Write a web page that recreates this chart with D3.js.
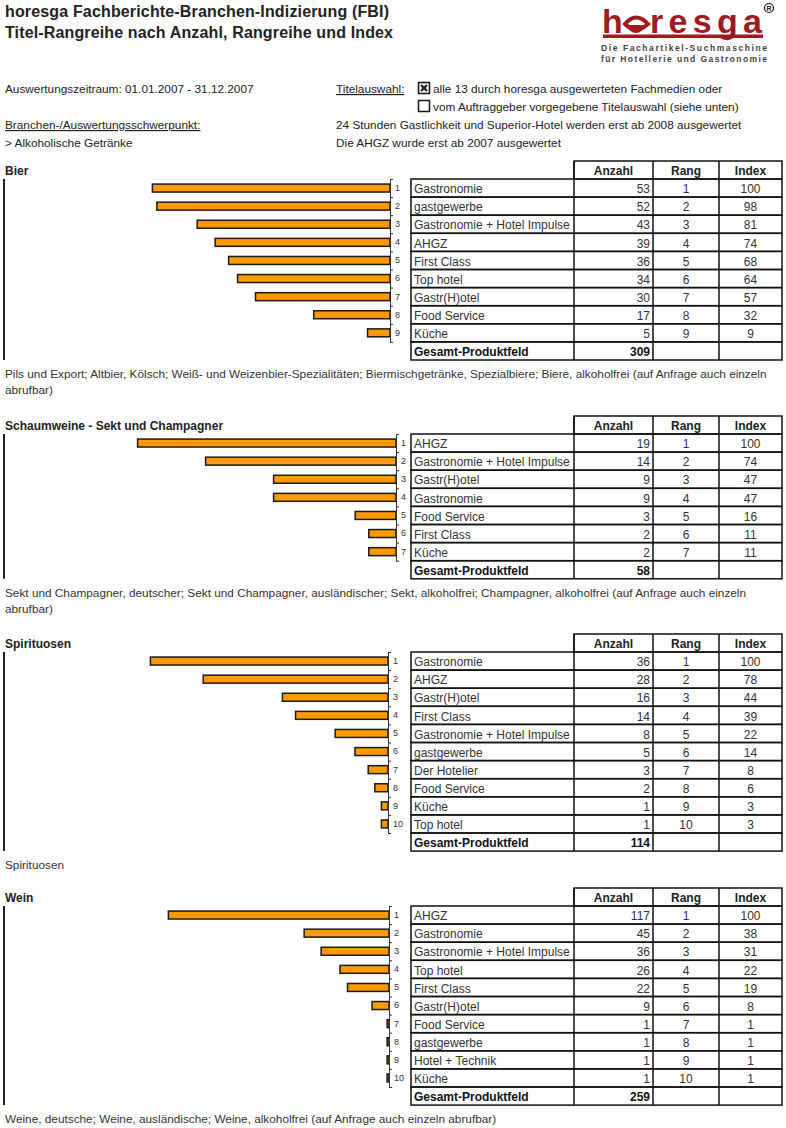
<!DOCTYPE html>
<html>
<head>
<meta charset="utf-8">
<script src="https://cdn.jsdelivr.net/npm/d3@7"></script>
<style>
    body { margin: 0; background: #fff; }
    text { font-family: "Liberation Sans", Arial, sans-serif; fill: #222; }
</style>
</head>
<body>
<div id="page"></div>
<script>

// ---- data ----
var sectionTitles = ["Bier", "Schaumweine - Sekt und Champagner", "Spirituosen", "Wein"];

var bierTitles = ["Gastronomie", "gastgewerbe", "Gastronomie + Hotel Impulse", "AHGZ", "First Class",
    "Top hotel", "Gastr(H)otel", "Food Service", "Küche"];
var bierCounts = [53, 52, 43, 39, 36, 34, 30, 17, 5];
var bierIndex = [100, 98, 81, 74, 68, 64, 57, 32, 9];

var sektTitles = ["AHGZ", "Gastronomie + Hotel Impulse", "Gastr(H)otel", "Gastronomie", "Food Service",
    "First Class", "Küche"];
var sektCounts = [19, 14, 9, 9, 3, 2, 2];
var sektIndex = [100, 74, 47, 47, 16, 11, 11];

var spiritTitles = ["Gastronomie", "AHGZ", "Gastr(H)otel", "First Class", "Gastronomie + Hotel Impulse",
    "gastgewerbe", "Der Hotelier", "Food Service", "Küche", "Top hotel"];
var spiritCounts = [36, 28, 16, 14, 8, 5, 3, 2, 1, 1];
var spiritIndex = [100, 78, 44, 39, 22, 14, 8, 6, 3, 3];

var weinTitles = ["AHGZ", "Gastronomie", "Gastronomie + Hotel Impulse", "Top hotel", "First Class",
    "Gastr(H)otel", "Food Service", "gastgewerbe", "Hotel + Technik", "Küche"];
var weinCounts = [117, 45, 36, 26, 22, 9, 1, 1, 1, 1];
var weinIndex = [100, 38, 31, 22, 19, 8, 1, 1, 1, 1];

var totals = [309, 58, 114, 259];
var axisMax = [60, 20, 40, 140];

var footnotes = [
    ["Pils und Export; Altbier, Kölsch; Weiß- und Weizenbier-Spezialitäten; Biermischgetränke, Spezialbiere; Biere, alkoholfrei (auf Anfrage auch einzeln",
        "abrufbar)"],
    ["Sekt und Champagner, deutscher; Sekt und Champagner, ausländischer; Sekt, alkoholfrei; Champagner, alkoholfrei (auf Anfrage auch einzeln",
        "abrufbar)"],
    ["Spirituosen"],
    ["Weine, deutsche; Weine, ausländische; Weine, alkoholfrei (auf Anfrage auch einzeln abrufbar)"]
];

var tableHeads = ["Anzahl", "Rang", "Index"];

// ---- layout ----
var W = 786, H = 1128;
var sectionTop = [161, 416, 634, 888];
var axisX = [390, 396, 388, 389];
var plotW = [269, 272, 264, 264];
var colX = [411, 574, 653, 719, 782];
var headH = 18, rowH = 18.1;
var red = "#9e1b1f";

var svg = d3.select("#page").append("svg")
    .attr("width", W)
    .attr("height", H);

svg.append("rect").attr("width", W).attr("height", H).attr("fill", "#fff");

// ---- title ----
svg.append("text")
    .attr("x", 5).attr("y", 17)
    .attr("font-size", "16px").attr("font-weight", "bold").attr("fill", "#111")
    .attr("textLength", 384)
    .text("horesga Fachberichte-Branchen-Indizierung (FBI)");
svg.append("text")
    .attr("x", 5).attr("y", 38)
    .attr("font-size", "16px").attr("font-weight", "bold").attr("fill", "#111")
    .attr("textLength", 388)
    .text("Titel-Rangreihe nach Anzahl, Rangreihe und Index");

// ---- logo ----
var logo = svg.append("g").attr("class", "logo");
logo.append("text")
    .attr("x", 602).attr("y", 32.5)
    .attr("font-size", "34px").attr("font-weight", "bold")
    .attr("textLength", 21)
    .style("fill", red)
    .attr("font-family", "'DejaVu Sans', sans-serif")
    .text("h");
logo.append("text")
    .attr("x", 650).attr("y", 32.5)
    .attr("font-size", "34px").attr("font-weight", "bold")
    .attr("textLength", 112)
    .style("fill", red)
    .attr("font-family", "'DejaVu Sans', sans-serif")
    .text("resga");
// eye in place of the "o"
logo.append("path")
    .attr("d", "M625,24 Q636,11 648,24 Q636,35 625,24 Z")
    .attr("fill", "none").attr("stroke", red).attr("stroke-width", 4);
logo.append("path")
    .attr("d", "M628,25 A8,8 0 0 0 644,25 Z")
    .attr("fill", red);
logo.append("rect")
    .attr("x", 603).attr("y", 34.5).attr("width", 160).attr("height", 3.5)
    .attr("fill", red);
logo.append("circle")
    .attr("cx", 769).attr("cy", 8).attr("r", 4.5)
    .attr("fill", "none").attr("stroke", "#111").attr("stroke-width", 1.2);
logo.append("text")
    .attr("x", 769).attr("y", 10.5).attr("text-anchor", "middle")
    .attr("font-size", "7px").attr("font-weight", "bold")
    .text("R");
logo.append("text")
    .attr("x", 601).attr("y", 51)
    .attr("font-size", "8.5px").attr("font-weight", "bold").attr("textLength", 166)
    .style("fill", "#444")
    .text("Die Fachartikel-Suchmaschine");
logo.append("text")
    .attr("x", 601).attr("y", 62)
    .attr("font-size", "8.5px").attr("font-weight", "bold").attr("textLength", 166)
    .style("fill", "#444")
    .text("für Hotellerie und Gastronomie");

// ---- info block ----
var info = svg.append("g").attr("font-size", "11.8px");
info.append("text").attr("x", 5).attr("y", 93).text("Auswertungszeitraum: 01.01.2007 - 31.12.2007");
info.append("text").attr("x", 336).attr("y", 93).style("text-decoration", "underline").text("Titelauswahl:");
info.append("text").attr("x", 433).attr("y", 93).text("alle 13 durch horesga ausgewerteten Fachmedien oder");
info.append("text").attr("x", 433).attr("y", 111).text("vom Auftraggeber vorgegebene Titelauswahl (siehe unten)");
info.append("text").attr("x", 5).attr("y", 129).style("text-decoration", "underline").text("Branchen-/Auswertungsschwerpunkt:");
info.append("text").attr("x", 336).attr("y", 129).text("24 Stunden Gastlichkeit und Superior-Hotel werden erst ab 2008 ausgewertet");
info.append("text").attr("x", 5).attr("y", 147).text("> Alkoholische Getränke");
info.append("text").attr("x", 336).attr("y", 147).text("Die AHGZ wurde erst ab 2007 ausgewertet");

// check boxes
info.append("rect").attr("x", 418.5).attr("y", 82.5).attr("width", 11).attr("height", 11)
    .attr("fill", "none").attr("stroke", "#111").attr("stroke-width", 1.5);
info.append("path").attr("d", "M421,85 L427,91 M427,85 L421,91")
    .attr("stroke", "#111").attr("stroke-width", 2);
info.append("rect").attr("x", 418.5).attr("y", 100.5).attr("width", 11).attr("height", 11)
    .attr("fill", "none").attr("stroke", "#111").attr("stroke-width", 1.5);

// ---- one ranking block per section ----
RankChart = function(_parent, _i, _titles, _counts, _index) {
    this.parent = _parent;
    this.i = _i;
    this.titles = _titles;
    this.counts = _counts;
    this.index = _index;

    this.initVis();
};

RankChart.prototype.initVis = function() {
    var vis = this;

    vis.n = vis.titles.length;
    vis.top = sectionTop[vis.i];
    vis.rowTop = vis.top + headH;
    vis.bottom = vis.rowTop + (vis.n + 1) * rowH;

    vis.data = vis.titles.map(function(t, k) {
        return {title: t, count: vis.counts[k], rank: k + 1, index: vis.index[k]};
    });

    vis.g = vis.parent.append("g").attr("class", "section");

    // bars grow to the left from the axis
    vis.x = d3.scaleLinear()
        .domain([0, axisMax[vis.i]])
        .range([axisX[vis.i], axisX[vis.i] - plotW[vis.i]]);

    vis.y = d3.scaleBand()
        .domain(vis.data.map(function(d) { return d.rank; }))
        .range([vis.rowTop, vis.rowTop + vis.n * rowH])
        .paddingInner(0.56)
        .paddingOuter(0.28);

    vis.rows = d3.scaleBand()
        .domain(d3.range(vis.n + 1))
        .range([vis.rowTop, vis.bottom]);

    vis.updateVis();
};

RankChart.prototype.updateVis = function() {
    var vis = this;

    // Title
    vis.g.append("text")
        .attr("x", 5).attr("y", vis.top + 13.5)
        .attr("font-size", "12px").attr("font-weight", "bold").attr("fill", "#111")
        .text(sectionTitles[vis.i]);

    // left frame line
    vis.g.append("line")
        .attr("x1", 4).attr("x2", 4)
        .attr("y1", vis.rowTop).attr("y2", vis.bottom)
        .attr("stroke", "#222").attr("stroke-width", 2);

    vis.g.selectAll(".bar")
        .data(vis.data)
        .enter().append("rect")
        .attr("class", "bar")
        .attr("x", function(d) { return vis.x(d.count); })
        .attr("y", function(d) { return vis.y(d.rank); })
        .attr("width", function(d) { return vis.x(0) - vis.x(d.count); })
        .attr("height", vis.y.bandwidth())
        .attr("fill", "#ff9900")
        .attr("stroke", "#1a1a1a")
        .attr("stroke-width", 1.5);

    // category axis: ticks between categories
    var edges = d3.scaleLinear()
        .domain([0, vis.n])
        .range([vis.rowTop, vis.rowTop + vis.n * rowH]);

    vis.g.append("g")
        .attr("class", "axis")
        .attr("transform", "translate(" + axisX[vis.i] + ",0)")
        .call(d3.axisRight(edges).tickValues(d3.range(vis.n + 1)).tickFormat("")
            .tickSizeInner(3).tickSizeOuter(0))
        .call(function(a) {
            a.select(".domain").attr("stroke", "#333");
            a.selectAll(".tick line").attr("stroke", "#333");
        });

    vis.g.append("g")
        .attr("class", "axis")
        .attr("transform", "translate(" + axisX[vis.i] + ",0)")
        .call(d3.axisRight(vis.rows.copy().domain(d3.range(1, vis.n + 2)))
            .tickValues(d3.range(1, vis.n + 1)).tickSize(0).tickPadding(6))
        .call(function(a) {
            a.select(".domain").remove();
            a.selectAll(".tick text")
                .attr("font-size", "9px")
                .attr("text-anchor", "start")
                .attr("x", 5)
                .style("fill", "#333");
        });

    // table header
    var head = vis.g.append("g").attr("class", "table-head");
    head.append("rect")
        .attr("x", colX[1]).attr("y", vis.top)
        .attr("width", colX[4] - colX[1]).attr("height", headH)
        .attr("fill", "none").attr("stroke", "#111").attr("stroke-width", 1.5);
    tableHeads.forEach(function(h, k) {
        head.append("line")
            .attr("x1", colX[k + 1]).attr("x2", colX[k + 1])
            .attr("y1", vis.top).attr("y2", vis.top + headH)
            .attr("stroke", "#111").attr("stroke-width", 1.5);
        head.append("text")
            .attr("x", (colX[k + 1] + colX[k + 2]) / 2).attr("y", vis.top + 13.5)
            .attr("text-anchor", "middle")
            .attr("font-size", "12px").attr("font-weight", "bold").attr("fill", "#111")
            .text(h);
    });

    // table rows
    var rowData = vis.data.concat([{title: "Gesamt-Produktfeld", count: totals[vis.i], rank: "", index: "", total: true}]);

    var row = vis.g.selectAll(".row")
        .data(rowData)
        .enter().append("g")
        .attr("class", "row")
        .attr("transform", function(d, k) { return "translate(0," + vis.rows(k) + ")"; });

    row.append("rect")
        .attr("x", colX[0]).attr("width", colX[4] - colX[0])
        .attr("height", rowH)
        .attr("fill", "none").attr("stroke", "#111").attr("stroke-width", 1.5);

    [1, 2, 3].forEach(function(c) {
        row.append("line")
            .attr("x1", colX[c]).attr("x2", colX[c])
            .attr("y1", 0).attr("y2", rowH)
            .attr("stroke", "#111").attr("stroke-width", 1.5);
    });

    row.append("text")
        .attr("x", colX[0] + 3).attr("y", 14.3)
        .attr("font-size", "12px")
        .attr("font-weight", function(d) { return d.total ? "bold" : null; })
        .style("fill", function(d) { return d.total ? "#111" : "#333"; })
        .text(function(d) { return d.title; });
    row.append("text")
        .attr("x", colX[2] - 3).attr("y", 14.3)
        .attr("text-anchor", "end")
        .attr("font-size", "12px")
        .attr("font-weight", function(d) { return d.total ? "bold" : null; })
        .style("fill", function(d) { return d.total ? "#111" : "#333"; })
        .text(function(d) { return d.count; });
    row.append("text")
        .attr("x", (colX[2] + colX[3]) / 2).attr("y", 14.3)
        .attr("text-anchor", "middle")
        .attr("font-size", "12px").style("fill", "#333")
        .text(function(d) { return d.rank; });
    row.append("text")
        .attr("x", (colX[3] + colX[4]) / 2).attr("y", 14.3)
        .attr("text-anchor", "middle")
        .attr("font-size", "12px").style("fill", "#333")
        .text(function(d) { return d.index; });

    // footnote
    vis.g.selectAll(".note")
        .data(footnotes[vis.i])
        .enter().append("text")
        .attr("class", "note")
        .attr("x", 5)
        .attr("y", function(d, k) { return vis.bottom + 18 + k * 16; })
        .attr("font-size", "11.8px").style("fill", "#333")
        .text(function(d) { return d; });
};

new RankChart(svg, 0, bierTitles, bierCounts, bierIndex);
new RankChart(svg, 1, sektTitles, sektCounts, sektIndex);
new RankChart(svg, 2, spiritTitles, spiritCounts, spiritIndex);
new RankChart(svg, 3, weinTitles, weinCounts, weinIndex);

</script>
</body>
</html>
